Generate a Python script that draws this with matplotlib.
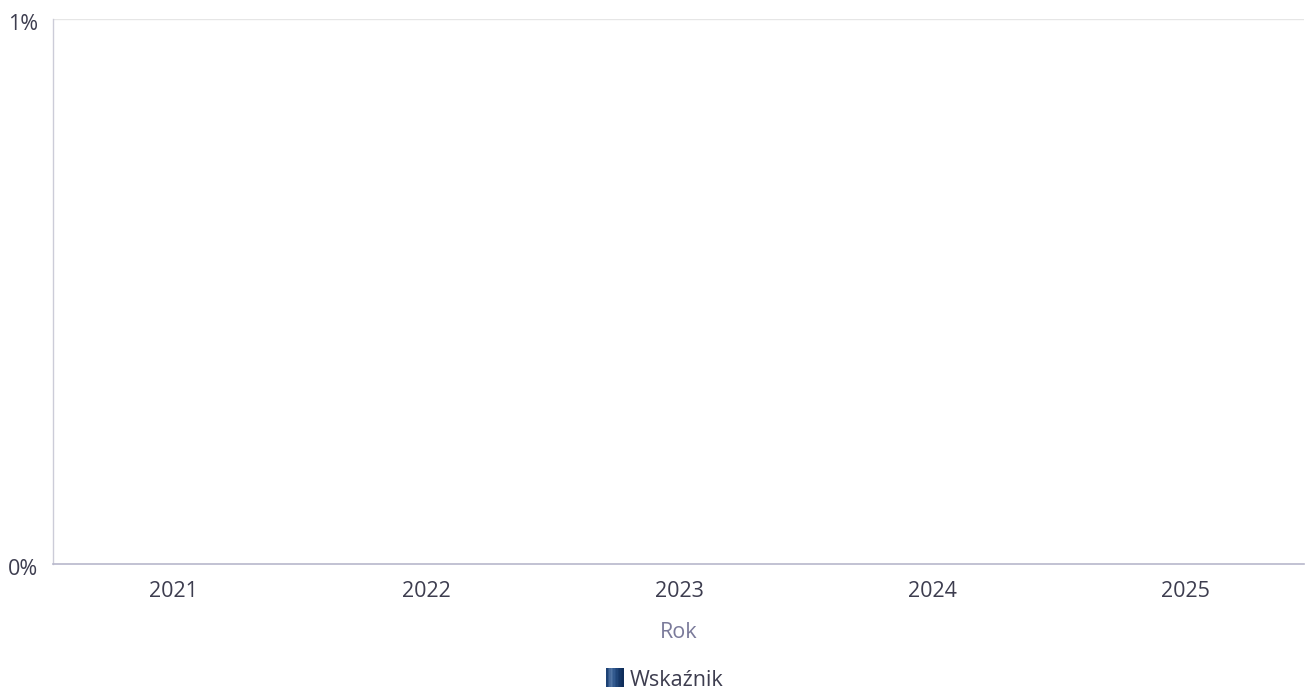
import matplotlib.pyplot as plt
import numpy as np
from matplotlib.patches import Patch, Rectangle
from matplotlib.legend_handler import HandlerBase
from matplotlib.colors import to_rgb
from matplotlib.ticker import FuncFormatter
from matplotlib.transforms import ScaledTranslation

plt.rcParams['font.family'] = ['Open Sans', 'DejaVu Sans']

years = ['2021', '2022', '2023', '2024', '2025']
values = [0, 0, 0, 0, 0]
series_name = 'Wskaźnik'


class GradientHandler(HandlerBase):
	# legend swatch with a soft horizontal gradient, like the original
	def create_artists(self, legend, orig_handle, xd, yd, w, h, fontsize, trans):
		stops = [to_rgb('#1d4275'), to_rgb('#5578a8'), to_rgb('#2a5288'), to_rgb('#173a6b'), to_rgb('#0f2d5a')]
		n = 12
		arts = []
		for i in range(n):
			t = i / (n - 1) * (len(stops) - 1)
			k = min(int(t), len(stops) - 2)
			f = t - k
			c = tuple((1 - f) * a + f * b for a, b in zip(stops[k], stops[k + 1]))
			r = Rectangle((xd + w * i / n, yd - 2.5), w / n + 0.3, h, facecolor=c, edgecolor='none', transform=trans)
			arts.append(r)
		return arts


def plot_chart():
	fig = plt.figure(figsize=(13.05, 6.9), dpi=100)
	ax = fig.add_axes([53 / 1305, 126 / 690, 1251 / 1305, 545 / 690])

	x = np.arange(len(years))
	ax.bar(x, values, 0.6, color='#1f3f6e', label=series_name)

	ax.set_xlim(-0.476, 4.468)
	ax.set_ylim(0, 1)
	ax.set_yticks([0, 1])
	ax.yaxis.set_major_formatter(FuncFormatter(lambda v, p: f'{v:.0f}%'))
	ax.set_xticks(x, years)

	ax.tick_params(axis='both', length=0, labelsize=15.5, colors='#3d3d4f')
	ax.tick_params(axis='y', pad=11)
	ax.tick_params(axis='x', pad=12)
	ax.grid(axis='y', color='#e6e6e6', linewidth=1)
	ax.set_axisbelow(True)

	# nudge the y labels down a bit
	off = ScaledTranslation(0, -3 / 100, fig.dpi_scale_trans)
	for lab in ax.get_yticklabels():
		lab.set_transform(lab.get_transform() + off)

	for s in ['top', 'right']:
		ax.spines[s].set_visible(False)
	ax.spines['left'].set_color('#ccccd8')
	ax.spines['left'].set_linewidth(1)
	ax.spines['bottom'].set_color('#b8b8cc')
	ax.spines['bottom'].set_linewidth(1.2)

	ax.set_xlabel('Rok', fontsize=15.5, color='#7a7a9a', va='center')
	ax.xaxis.set_label_coords(679 / 1305, 1 - 633 / 690, transform=fig.transFigure)

	handles = [Patch(facecolor='#1f3f6e', edgecolor='none', label=series_name)]
	fig.legend(handles=handles, loc='center', bbox_to_anchor=(665 / 1305, 1 - 680 / 690),
		frameon=False, fontsize=15.5, labelcolor='#3d3d4f', handlelength=0.8,
		handleheight=1.0, handletextpad=0.3, handler_map={Patch: GradientHandler()})

	plt.savefig('out.png')


if __name__ == '__main__':
	plot_chart()
